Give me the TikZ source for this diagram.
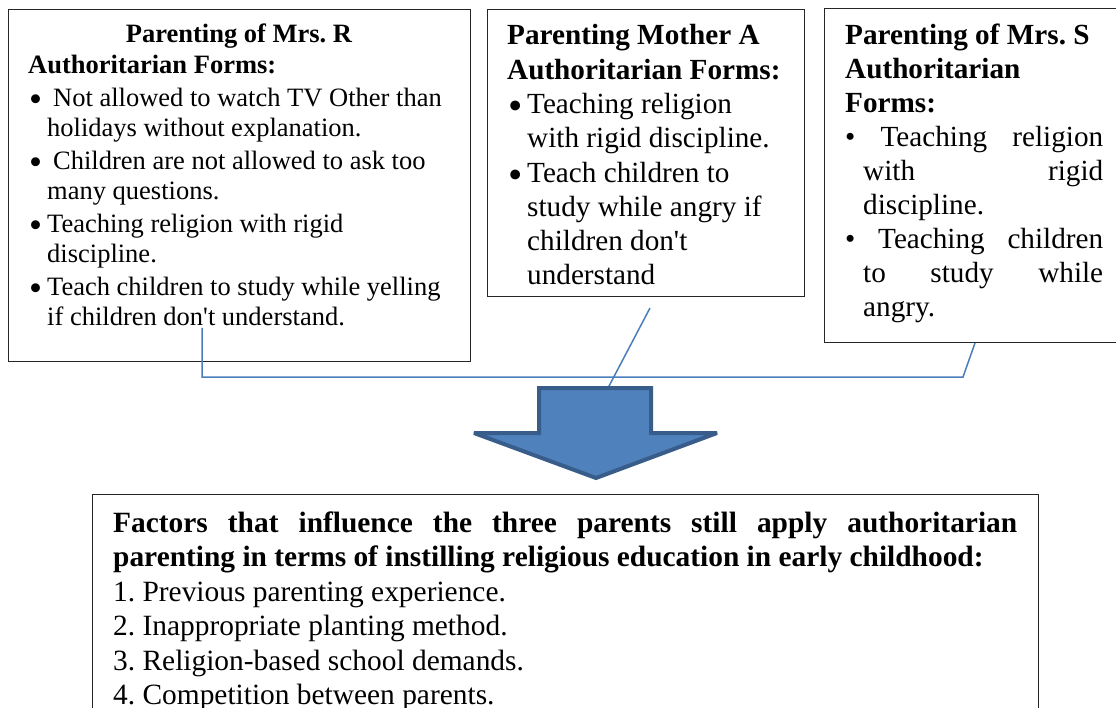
\documentclass[tikz,border=0pt]{standalone}
\usepackage{graphicx}
\usepackage{fontspec}
\setmainfont{Liberation Serif}
\definecolor{linkblue}{HTML}{4A7EBB}
\definecolor{arrowfill}{HTML}{4F81BD}
\definecolor{arrowedge}{HTML}{385D8A}
% a larger round bullet for the left-hand lists
\newcommand\bigdot{\raisebox{-0.19em}{\scalebox{1.4}{\textbullet}}}
% one bulleted entry: #1 hanging width, #2 bullet offset, #3 text
\newcommand\listentry[3]{\hangindent=#1\hangafter=1\noindent\makebox[#1][l]{\hspace*{#2}\bigdot}#3\par}
\begin{document}
\frenchspacing
\begin{tikzpicture}[x=1pt,y=-1pt]
\tikzset{
  panel/.style={draw=black!85, line width=1.3pt, inner sep=0pt, anchor=north west},
  body/.style={anchor=base west, inner sep=0pt, align=left},
  link/.style={draw=linkblue, line width=1.5pt},
  bigarrow/.style={draw=arrowedge, fill=arrowfill, line width=4pt, miter limit=1.5},
}
\useasboundingbox (0,0) rectangle (1116,708);
\clip (0,0) rectangle (1116,708);

% frames
\node[panel, minimum width=462, minimum height=352] (boxR) at (8,9) {};
\node[panel, minimum width=317, minimum height=287] (boxA) at (487,9) {};
\node[panel, minimum width=330, minimum height=334] (boxS) at (824,8) {};
\node[panel, minimum width=946, minimum height=240] (boxF) at (92,494) {};

% Mrs. R
\node[anchor=base, inner sep=0pt] (titleR) at (239,43)
  {\fontsize{26.5}{30.5}\selectfont\frenchspacing\bfseries Parenting of Mrs. R};
\node[body] (textR) at (28,74) {\parbox[t]{440pt}{\fontsize{26.5}{30.5}\selectfont\frenchspacing
  \setlength{\parskip}{2pt}%
  \noindent\textbf{Authoritarian Forms:}\par
  \listentry{19pt}{1pt}{\hspace*{6pt}Not allowed to watch TV Other than\\holidays without explanation.}
  \listentry{19pt}{1pt}{\hspace*{6pt}Children are not allowed to ask too\\many questions.}
  \listentry{19pt}{1pt}{Teaching religion with rigid\\discipline.}
  \listentry{19pt}{1pt}{Teach children to study while yelling\\if children don\textquotesingle t understand.}
}};

% Mother A
\node[body] (textA) at (507,45) {\parbox[t]{295pt}{\fontsize{29.2}{34}\selectfont\frenchspacing
  \setlength{\parskip}{0.5pt}%
  \noindent\textbf{Parenting Mother A}\par
  \noindent\textbf{Authoritarian Forms:}\par
  \listentry{20pt}{1pt}{Teaching religion\\with rigid discipline.}
  \listentry{20pt}{1pt}{Teach children to\\study while angry if\\children don\textquotesingle t\\understand}
}};

% Mrs. S
\node[body] (textS) at (845,45) {\parbox[t]{262pt}{\fontsize{29.2}{34}\selectfont\frenchspacing
  \setlength{\parskip}{0pt}%
  \noindent\textbf{Parenting of Mrs. S}\par
  \noindent\textbf{Authoritarian}\par
  \noindent\textbf{Forms:}\par
  \noindent\makebox[258pt][s]{\textbullet\ Teaching religion}\par
  \noindent\hspace*{18pt}\makebox[240pt][s]{with rigid}\par
  \noindent\hspace*{18pt}discipline.\par
  \noindent\makebox[258pt][s]{\textbullet\ Teaching children}\par
  \noindent\hspace*{18pt}\makebox[240pt][s]{to study while}\par
  \noindent\hspace*{18pt}angry.\par
}};

% factors
\node[body] (textF) at (113,532) {\parbox[t]{910pt}{\fontsize{29.4}{34.5}\selectfont\frenchspacing
  \setlength{\parskip}{0pt}%
  \noindent\makebox[904pt][s]{\bfseries Factors that influence the three parents still apply authoritarian}\par
  \noindent\textbf{parenting in terms of instilling religious education in early childhood:}\par
  \noindent 1. Previous parenting experience.\par
  \noindent 2. Inappropriate planting method.\par
  \noindent 3. Religion-based school demands.\par
  \noindent 4. Competition between parents.\par
}};

% connectors
\coordinate (rFoot) at (202,328);
\coordinate (bendL) at (202,377);
\coordinate (bendR) at (963,377);
\coordinate (sFoot) at (975,343);
\coordinate (aFoot) at (650,308);
\coordinate (arrowTop) at (608,388);
\draw[link] (rFoot) -- (bendL) -- (bendR) -- (sFoot);
\draw[link] (aFoot) -- (arrowTop);

% block arrow
\draw[bigarrow] (539,388) -- (651,388) -- (651,433) -- (717,433) -- (596,478)
  -- (474,433) -- (539,433) -- cycle;
\end{tikzpicture}
\end{document}
